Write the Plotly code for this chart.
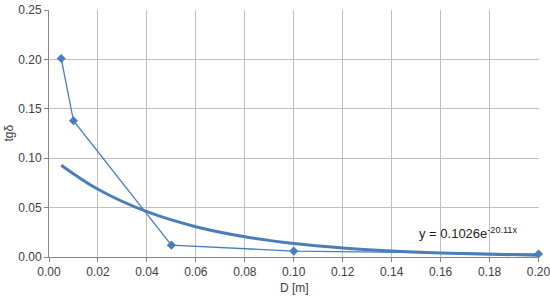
import plotly.graph_objects as go

# measured points
D = [0.005, 0.01, 0.05, 0.10, 0.20]
tgd = [0.201, 0.138, 0.012, 0.006, 0.003]

# exponential trendline
trend_x = [0.005, 0.02, 0.04, 0.06, 0.08, 0.10, 0.12, 0.14, 0.16, 0.18, 0.20]
trend_y = [0.093, 0.0686, 0.0459, 0.0307, 0.0205, 0.0137, 0.0092, 0.0062, 0.0041, 0.0028, 0.0018]

x_ticks = [0.00, 0.02, 0.04, 0.06, 0.08, 0.10, 0.12, 0.14, 0.16, 0.18, 0.20]
y_ticks = [0.00, 0.05, 0.10, 0.15, 0.20, 0.25]

blue = "#4a7ebb"
txt = "#404040"
grid = "#bfbfbf"

fig = go.Figure()
fig.add_trace(go.Scatter(x=trend_x, y=trend_y, mode="lines", line_shape="spline",
                         line=dict(color=blue, width=3), showlegend=False))
fig.add_trace(go.Scatter(x=D, y=tgd, mode="lines+markers",
                         line=dict(color=blue, width=1.3),
                         marker=dict(symbol="diamond", size=7, color=blue),
                         showlegend=False, cliponaxis=False))

fig.add_annotation(x=0.171, y=0.0243, text="y = 0.1026e<sup>-20.11x</sup>",
                   showarrow=False, font=dict(size=13, color="#222222"))

# axis titles
fig.add_annotation(x=0.5, y=0, xref="paper", yref="paper", yshift=-31,
                   xanchor="center", yanchor="middle",
                   text="D [m]", showarrow=False, font=dict(size=12, color=txt))
fig.add_annotation(x=0, y=0.5, xref="paper", yref="paper", xshift=-41,
                   xanchor="center", yanchor="middle",
                   text="tgδ", textangle=-90, showarrow=False,
                   font=dict(size=12, color=txt))

fig.update_xaxes(range=[0, 0.2002], tickvals=x_ticks, tickformat=".2f",
                 showgrid=True, gridcolor=grid, gridwidth=1, automargin=False,
                 showline=True, linecolor="#868686", ticks="outside", ticklen=4,
                 tickcolor="#868686", zeroline=False, ticklabeloverflow="allow",
                 tickfont=dict(size=12, color=txt))
fig.update_yaxes(range=[0, 0.2502], tickvals=y_ticks, tickformat=".2f",
                 showgrid=True, gridcolor=grid, gridwidth=1, automargin=False,
                 showline=True, linecolor="#868686", ticks="outside", ticklen=4,
                 tickcolor="#868686", zeroline=False,
                 tickfont=dict(size=12, color=txt))

fig.update_layout(width=550, height=306, margin=dict(l=49, r=11, t=10, b=49),
                  plot_bgcolor="white", paper_bgcolor="white",
                  font=dict(family="Liberation Sans Narrow, Liberation Sans, Arial, sans-serif"))

fig.write_html("out.html", config={"displayModeBar": False},
               post_script="document.body.style.margin='0';document.body.style.overflow='hidden';")
